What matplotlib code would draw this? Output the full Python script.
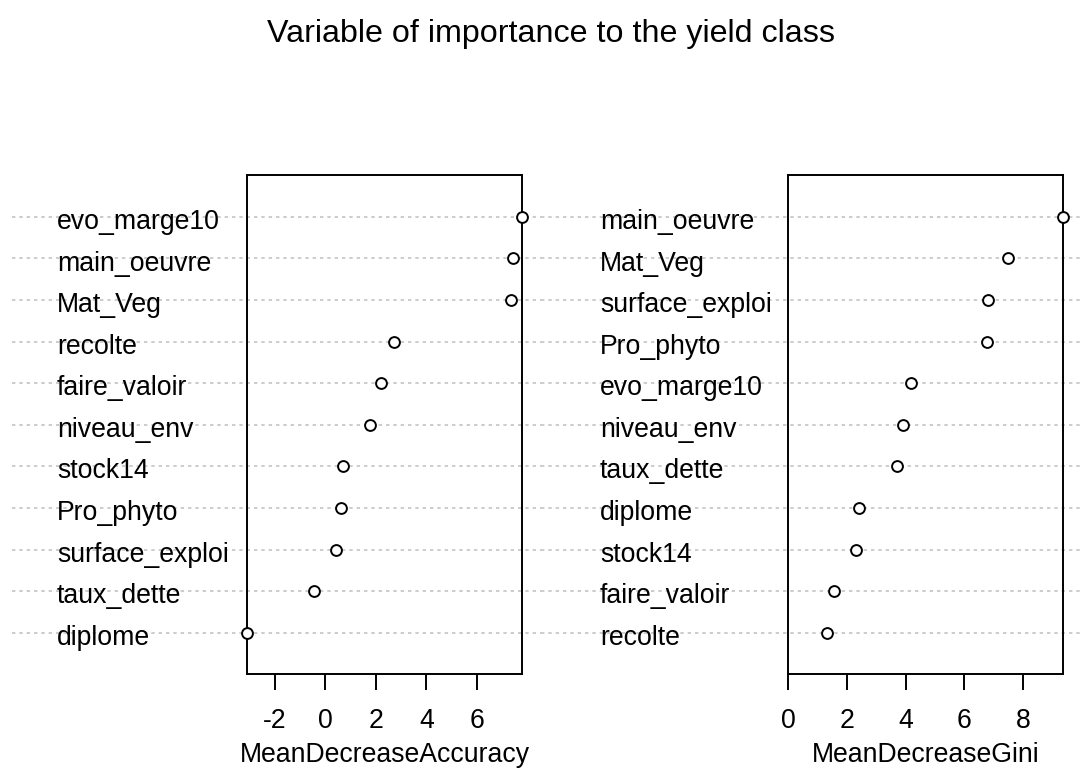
import matplotlib
matplotlib.use("Agg")
import matplotlib.pyplot as plt
import matplotlib.transforms as mtransforms

plt.rcParams['font.family'] = ['Liberation Sans', 'DejaVu Sans']

# variables listed top to bottom, as in each panel
acc_vars = ['evo_marge10', 'main_oeuvre', 'Mat_Veg', 'recolte', 'faire_valoir',
            'niveau_env', 'stock14', 'Pro_phyto', 'surface_exploi', 'taux_dette', 'diplome']
acc_vals = [7.77, 7.42, 7.36, 2.71, 2.19, 1.78, 0.70, 0.64, 0.43, -0.44, -3.08]

gini_vars = ['main_oeuvre', 'Mat_Veg', 'surface_exploi', 'Pro_phyto', 'evo_marge10',
             'niveau_env', 'taux_dette', 'diplome', 'stock14', 'faire_valoir', 'recolte']
gini_vals = [9.36, 7.50, 6.80, 6.79, 4.20, 3.90, 3.72, 2.42, 2.32, 1.57, 1.32]

acc_ticks = [-2, 0, 2, 4, 6]
gini_ticks = [0, 2, 4, 6, 8]

W, H = 1082, 768
fig = plt.figure(figsize=(W / 100, H / 100), dpi=100)

fig.text(551 / W, 1 - 42 / H, 'Variable of importance to the yield class',
         ha='center', va='baseline', fontsize=23.2)


def panel(left_px, names, vals, ticks, xlab, label_px, line_from_px, line_to_px, xmin=None):
    ax = fig.add_axes([left_px / W, (H - 674.3) / H, 274.4 / W, 499.0 / H])
    n = len(vals)
    ys = [n - i for i in range(n)]
    lo = min(vals) if xmin is None else min(xmin, min(vals))
    ax.set_xlim(lo, max(vals))
    ax.set_ylim(0, n + 1)

    tr = mtransforms.blended_transform_factory(fig.transFigure, ax.transData)
    for y, name in zip(ys, names):
        ax.plot([line_from_px / W, line_to_px / W], [y, y], transform=tr,
                color='#bebebe', lw=1.1, ls=(0, (2.2, 2.6)), clip_on=False, zorder=0)
        ax.text(label_px / W, y - 0.29, name, transform=tr, ha='left', va='baseline',
                fontsize=19.2, zorder=2)
    ax.plot(vals, ys, 'o', ms=7.8, mfc='white', mec='black', mew=1.4,
            clip_on=False, zorder=3)

    ax.set_yticks([])
    ax.set_xticks(ticks)
    ax.set_xticklabels([str(t) for t in ticks])
    ax.tick_params(axis='x', length=11.5, width=1.4, pad=12.5, labelsize=19.2, direction='out')
    for s in ax.spines.values():
        s.set_linewidth(1.4)
    ax.patch.set_alpha(0)

    # x label sits right at the bottom edge, as in the original
    xtr = mtransforms.blended_transform_factory(ax.transAxes, fig.transFigure)
    ax.text(0.5, (H - 761.5) / H, xlab, transform=xtr, ha='center', va='baseline', fontsize=19.2)
    return ax


panel(247.3, acc_vars, acc_vals, acc_ticks, 'MeanDecreaseAccuracy', 57, 12, 541)
panel(788.3, gini_vars, gini_vals, gini_ticks, 'MeanDecreaseGini', 600, 541, 1082, xmin=0)

fig.savefig('out.png', dpi=100)
